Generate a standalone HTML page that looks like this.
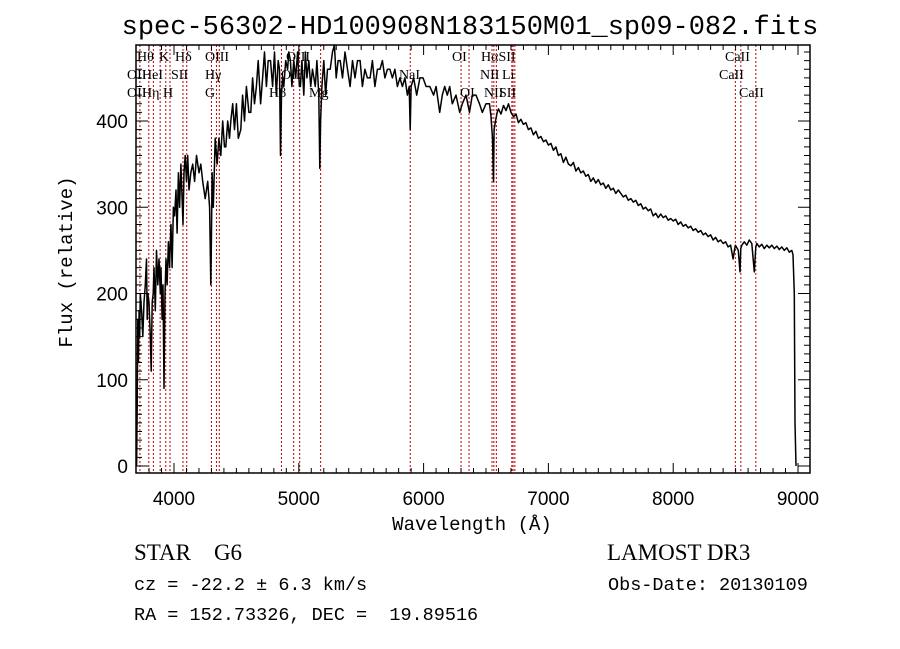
<!DOCTYPE html>
<html><head><meta charset="utf-8"><style>
html,body{margin:0;padding:0;background:#fff;width:900px;height:649px;overflow:hidden}
svg{display:block}
.t{font-family:"Liberation Mono",monospace}
.s{font-family:"Liberation Serif",serif}
.a{font-family:"Liberation Sans",sans-serif}
</style></head><body>
<svg id="c" width="900" height="649" xmlns="http://www.w3.org/2000/svg">
<text class="t" x="470" y="34" font-size="27" text-anchor="middle">spec-56302-HD100908N183150M01_sp09-082.fits</text>
<text class="t" x="472" y="530" font-size="19" text-anchor="middle">Wavelength (Å)</text>
<text class="t" x="72" y="262" font-size="19" text-anchor="middle" transform="rotate(-90 72 262)">Flux (relative)</text>
<g class="s" font-size="23">
<text x="134" y="560" xml:space="preserve">STAR    G6</text>
<text x="607" y="560">LAMOST DR3</text>
</g>
<g class="t" font-size="18.5">
<text x="134" y="590">cz = -22.2 ± 6.3 km/s</text>
<text x="608" y="590">Obs-Date: 20130109</text>
<text x="134" y="620" xml:space="preserve">RA = 152.73326, DEC =  19.89516</text>
</g>
</svg>
<script>
const waves=[3700,3705,3710,3715,3720,3725,3730,3740,3750,3760,3770,3780,3785,3790,3800,3810,3817,3825,3833,3840,3850,3860,3870,3880,3890,3896,3905,3912,3920,3928,3936,3945,3955,3965,3970,3976,3985,3995,4005,4016,4025,4035,4045,4055,4065,4072,4080,4090,4100,4110,4120,4135,4150,4165,4180,4200,4215,4230,4250,4270,4285,4295,4300,4305,4315,4330,4345,4360,4375,4390,4405,4415,4430,4445,4455,4470,4485,4500,4515,4535,4550,4565,4580,4600,4615,4630,4645,4660,4675,4694,4710,4725,4740,4755,4773,4790,4805,4820,4835,4845,4853,4861,4870,4880,4895,4910,4920,4933,4945,4960,4975,4990,5005,5013,5025,5040,5053,5065,5080,5095,5110,5132,5145,5160,5168,5175,5185,5200,5215,5230,5252,5270,5285,5300,5315,5332,5350,5370,5390,5411,5430,5450,5470,5491,5510,5530,5550,5571,5590,5610,5630,5651,5670,5690,5710,5730,5750,5770,5790,5810,5830,5850,5870,5885,5893,5900,5920,5945,5970,5995,6020,6050,6080,6100,6129,6150,6169,6190,6209,6230,6260,6289,6310,6340,6368,6390,6420,6448,6470,6500,6528,6540,6552,6560,6565,6576,6590,
6600,6620,6640,6660,6680,6700,6720,6740,6760,6780,6800,6820,6840,6860,6880,6900,6920,6940,6960,6980,7000,7020,7040,7060,7080,7100,7120,7140,7160,7180,7200,7220,7240,7260,7280,7300,7320,7340,7360,7380,7400,7420,7440,7460,7480,7500,7520,7540,7560,7580,7600,7620,7640,7660,7680,7700,7720,7740,7760,7780,7800,7820,7840,7860,7880,7900,7920,7940,7960,7980,8000,8020,8040,8060,8080,8100,8120,8140,8160,8180,8200,8220,8240,8260,8280,8300,8320,8340,8360,8380,8400,8420,8440,8460,8480,8490,8498,8506,8522,8535,8542,8550,8570,8590,8610,8630,8650,8662,8670,8690,8710,8730,8750,8770,8790,8810,8830,8850,8870,8890,8910,8930,8950,8960,8970,8976,8984,8990];
const flux=[0,70,170,120,180,150,200,180,150,190,210,240,170,200,190,150,110,190,200,230,180,250,210,240,200,230,170,210,90,200,240,210,260,230,260,280,230,300,290,320,270,340,300,350,310,280,340,360,330,360,320,340,350,330,360,340,350,330,310,330,300,210,260,340,300,380,350,380,360,400,370,370,400,380,400,420,390,420,380,390,430,400,440,410,410,450,420,440,470,420,450,480,440,470,470,440,480,430,470,460,360,430,450,440,470,460,480,470,440,470,450,480,440,440,470,430,480,450,470,440,460,440,470,430,345,400,440,470,430,460,460,480,490,450,470,470,450,480,460,440,470,450,470,470,440,460,450,450,470,440,460,460,470,450,460,460,450,460,440,450,440,450,430,440,390,440,450,430,450,450,440,440,430,440,410,430,440,430,440,420,430,410,420,430,410,430,430,420,410,420,420,405,380,330,390,400,
410,414,408,418,412,420,410,405,408,398,402,396,398,390,392,384,388,380,382,376,378,372,374,366,370,360,362,352,358,350,348,352,342,346,340,342,336,338,330,334,328,332,326,328,322,326,320,322,316,320,316,312,314,308,310,306,308,302,304,298,300,296,298,290,293,288,292,288,290,285,287,284,286,280,283,278,280,276,278,273,275,271,273,268,270,266,268,262,265,260,262,258,260,254,256,240,250,256,254,250,225,252,256,260,256,262,258,225,254,258,254,257,252,256,253,256,252,255,251,254,250,253,248,250,245,200,50,0];
const xTicks=[4000,5000,6000,7000,8000,9000];
const yTicks=[0,100,200,300,400];
const lineWaves=[3727,3798,3835,3889,3934,3968,4072,4102,4300,4340,4363,4861,4959,5007,5175,5893,6300,6364,6548,6563,6583,6707,6717,6731,8498,8542,8662];
const lineLabels=[["Hθ",137,61],["K",159,61],["Hδ",175,61],["OIII",205,61],["OIII",286,61],["OI",452,61],["HαSII",481,61],["CaII",725,61],
["OII",127,79],["HeI",142,79],["SII",171,79],["Hγ",205,79],["OIII",281,79],["NaI",399,79],["NII",480,79],["Li",502,79],["CaII",719,79],
["OII",127,97],["Hη",142,97],["H",163,97],["G",205,97],["Hβ",269,97],["Mg",309,97],["OI",460,97],["NII",484,97],["SII",499,97],["CaII",739,97]];
const L=136,R=810,T=45,B=473;
const x=w=>174+(w-4000)*0.1248;
const y=f=>466-f*0.8625;
const svg=document.getElementById('c');
const NS='http://www.w3.org/2000/svg';
function mk(tag,attrs){const e=document.createElementNS(NS,tag);for(const k in attrs)e.setAttribute(k,attrs[k]);svg.appendChild(e);return e;}
lineWaves.forEach(w=>{
 const e=mk('line',{x1:x(w),x2:x(w),y1:T,y2:B,stroke:'#c00000','stroke-width':1,'stroke-dasharray':'2,2'});
 
 
});
lineLabels.forEach(l=>{
 const t=mk('text',{x:l[1],y:l[2],'font-size':14,'font-family':'"Liberation Serif",serif'});
 t.textContent=l[0];
 
 
});
let d='';
waves.forEach((w,i)=>{d+=(i?'L':'M')+x(w).toFixed(1)+','+Math.max(T,Math.min(B,y(flux[i]))).toFixed(1);});
const p=mk('path',{d:d,fill:'none',stroke:'#000','stroke-width':1.5,'stroke-linejoin':'round'});


const fr=mk('rect',{x:L,y:T,width:R-L,height:B-T,fill:'none',stroke:'#000','stroke-width':1.5});


let td='';
for(let w=3800;w<=9000;w+=100){const X=x(w);const len=(w%1000===0)?10:5;td+=`M${X},${B}v${-len}M${X},${T}v${len}`;}
for(let f=0;f<=480;f+=10){const Y=y(f);const len=(f%100===0)?12:6;td+=`M${L},${Y}h${len}M${R},${Y}h${-len}`;}
const tk=mk('path',{d:td,stroke:'#000','stroke-width':1});


xTicks.forEach(w=>{
 const t=mk('text',{x:x(w),y:505,'font-size':19,'text-anchor':'middle','font-family':'"Liberation Sans",sans-serif'});
 t.textContent=w;
 
 
});
yTicks.forEach(f=>{
 const t=mk('text',{x:128,y:y(f)+7,'font-size':19,'text-anchor':'end','font-family':'"Liberation Sans",sans-serif'});
 t.textContent=f;
 
 
});
</script>
</body></html>
